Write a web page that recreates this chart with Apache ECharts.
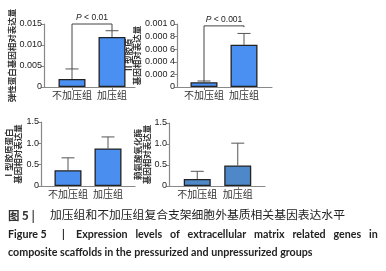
<!DOCTYPE html>
<html>
<head>
<meta charset="utf-8">
<script src="https://cdn.jsdelivr.net/npm/echarts@6/dist/echarts.min.js"></script>
<style>
  html, body { margin: 0; padding: 0; background: #fff; }
  #chart { width: 386px; height: 271px; }
</style>
</head>
<body>
<div id="chart"></div>
<script>
// 分组
const groups = ['不加压组', '加压组']

// 各基因相对表达量 (均值, 标准差)
const elastinMean = [0.0019, 0.0119]
const elastinSd = [0.0024, 0.0015]
const col2Mean = [0.000075, 0.00067]
const col2Sd = [0.00002, 0.00018]
const col1Mean = [0.37, 0.88]
const col1Sd = [0.29, 0.27]
const loxMean = [0.167, 0.49]
const loxSd = [0.183, 0.53]

// y 轴刻度
const yMax = [0.015, 0.001, 1.5, 1.5]
const yStep = [0.005, 0.0002, 0.5, 0.5]

// 显著性标注
const sigText = ['P < 0.01', 'P < 0.001']
const sigTop = [0.015, 0.00097]
const sigLeftEnd = [0.0043, 0.000095]
const sigRightEnd = [0.0134, 0.00095]

const yNames = [
  '弹性蛋白基因相对表达量',
  'Ⅱ型胶原\n基因相对表达量',
  'Ⅰ型胶原蛋白\n基因相对表达量',
  '赖氨酸氧化酶\n基因相对表达量'
]

const means = [elastinMean, col2Mean, col1Mean, loxMean]
const sds = [elastinSd, col2Sd, col1Sd, loxSd]
const barColors = ['#4a8ff2', '#4a8ff2', '#4a8ff0', '#4e88c9']

// 面板位置: 轴框 / 数据区
const frames = [
  { left: 44, top: 24, width: 91, height: 63 },
  { left: 177, top: 24, width: 95, height: 63 },
  { left: 41, top: 122, width: 94, height: 64 },
  { left: 169, top: 123, width: 96, height: 63 }
]
const inner = [
  { left: 52, width: 80 },
  { left: 184, width: 80 },
  { left: 48, width: 80 },
  { left: 177, width: 81 }
]
const nameGaps = [25, 21, 19, 12]

let fmtTick = (p) => (v) => {
  if (v === 0) return '0'
  if (p === 0) return v.toFixed(3)
  if (p === 1) {
    const s = v.toFixed(4)
    return s.slice(0, 5) + ' ' + s.slice(5)
  }
  return v.toFixed(1)
}

const grid = []
const xAxis = []
const yAxis = []
const series = []

frames.forEach((f, p) => {
  // 轴框
  grid.push({ left: f.left, top: f.top, width: f.width, height: f.height })
  // 数据区
  grid.push({ left: inner[p].left, top: f.top, width: inner[p].width, height: f.height })

  xAxis.push({
    gridIndex: p * 2, type: 'category', data: groups,
    axisLine: { lineStyle: { color: '#888', width: 1.2 } },
    axisTick: { show: false }, axisLabel: { show: false }
  })
  xAxis.push({
    gridIndex: p * 2 + 1, type: 'category', data: groups,
    axisLine: { show: false },
    axisTick: { show: true, alignWithLabel: true, length: 3, lineStyle: { color: '#888' } },
    axisLabel: {
      interval: 0, hideOverlap: false,
      color: '#333', fontSize: 10, margin: 3,
      fontFamily: 'Noto Sans CJK SC'
    }
  })
  yAxis.push({
    gridIndex: p * 2, type: 'value', min: 0, max: yMax[p], interval: yStep[p],
    name: yNames[p], nameLocation: 'middle', nameRotate: 90, nameGap: nameGaps[p],
    nameTextStyle: {
      color: '#333', fontSize: 8.5, lineHeight: 8.5, fontWeight: 'bold',
      fontFamily: 'Noto Sans CJK SC'
    },
    axisLine: { show: true, lineStyle: { color: '#888', width: 1.2 } },
    axisTick: { show: true, length: 3, lineStyle: { color: '#888' } },
    splitLine: { show: false },
    axisLabel: {
      color: '#222', fontSize: 9, margin: 2, fontFamily: 'Liberation Sans',
      formatter: fmtTick(p)
    }
  })
  yAxis.push({
    gridIndex: p * 2 + 1, type: 'value', min: 0, max: yMax[p], interval: yStep[p],
    show: false
  })

  const xi = p * 2 + 1
  series.push({
    type: 'bar', xAxisIndex: xi, yAxisIndex: xi,
    data: means[p], barWidth: 27,
    itemStyle: { color: barColors[p], borderColor: '#222', borderWidth: 1.3 },
    z: 3
  })
  // 误差线
  series.push({
    type: 'custom', xAxisIndex: xi, yAxisIndex: xi, z: 2,
    data: means[p].map((m, i) => [i, m, m + sds[p][i]]),
    renderItem: (params, api) => {
      const base = api.coord([api.value(0), api.value(1)])
      const top = api.coord([api.value(0), api.value(2)])
      const style = { stroke: '#555', lineWidth: 1 }
      return {
        type: 'group',
        children: [
          { type: 'line', shape: { x1: base[0], y1: base[1], x2: top[0], y2: top[1] }, style },
          { type: 'line', shape: { x1: top[0] - 6.5, y1: top[1], x2: top[0] + 6.5, y2: top[1] }, style }
        ]
      }
    }
  })
  // 显著性括号
  if (p < 2) {
    series.push({
      type: 'custom', xAxisIndex: xi, yAxisIndex: xi, z: 4,
      data: [[sigTop[p], sigLeftEnd[p], sigRightEnd[p]]],
      renderItem: (params, api) => {
        const l = api.coord([0, api.value(1)])
        const lt = api.coord([0, api.value(0)])
        const rt = api.coord([1, api.value(0)])
        const r = api.coord([1, api.value(2)])
        const parts = sigText[p].split(' ')
        return {
          type: 'group',
          children: [
            {
              type: 'polyline',
              shape: { points: [l, lt, rt, r] },
              style: { stroke: '#444', lineWidth: 1, fill: null }
            },
            {
              type: 'text',
              x: (lt[0] + rt[0]) / 2, y: lt[1] - 2,
              style: {
                text: '{i|' + parts[0] + '} ' + parts.slice(1).join(' '),
                align: 'center', verticalAlign: 'bottom',
                fontSize: 8.5, fill: '#222', fontFamily: 'Liberation Sans',
                rich: { i: { fontStyle: 'italic', fontSize: 8.5, fontFamily: 'Liberation Sans' } }
              }
            }
          ]
        }
      }
    })
  }
})

const chart = echarts.init(document.getElementById('chart'))
chart.setOption({
  animation: false,
  grid, xAxis, yAxis, series,
  graphic: [
    {
      type: 'text', left: 8, top: 210,
      style: { text: '图 5 |', fontSize: 11.5, fontWeight: 'bold', fill: '#333', fontFamily: 'Noto Sans CJK SC' }
    },
    {
      type: 'text', left: 50, top: 209,
      style: { text: '加压组和不加压组复合支架细胞外基质相关基因表达水平', fontSize: 11.8, fill: '#222', fontFamily: 'Noto Sans CJK SC' }
    },
    {
      type: 'text', left: 8, top: 229,
      style: { text: 'Figure 5', fontSize: 10.7, fontWeight: 'bold', fill: '#222', fontFamily: 'Lato' }
    },
    {
      type: 'text', left: 62, top: 229,
      style: { text: '|', fontSize: 10.7, fontWeight: 'bold', fill: '#222', fontFamily: 'Lato' }
    },
    {
      type: 'text', left: 76, top: 229,
      style: { text: 'Expression   levels   of   extracellular   matrix   related   genes   in', fontSize: 10.7, fontWeight: 'bold', fill: '#222', fontFamily: 'Lato' }
    },
    {
      type: 'text', left: 8, top: 247,
      style: { text: 'composite scaffolds in the pressurized and unpressurized groups', fontSize: 10.7, fontWeight: 'bold', fill: '#222', fontFamily: 'Lato' }
    }
  ]
})
window.onresize = () => {
  chart.resize()
}
</script>
</body>
</html>
